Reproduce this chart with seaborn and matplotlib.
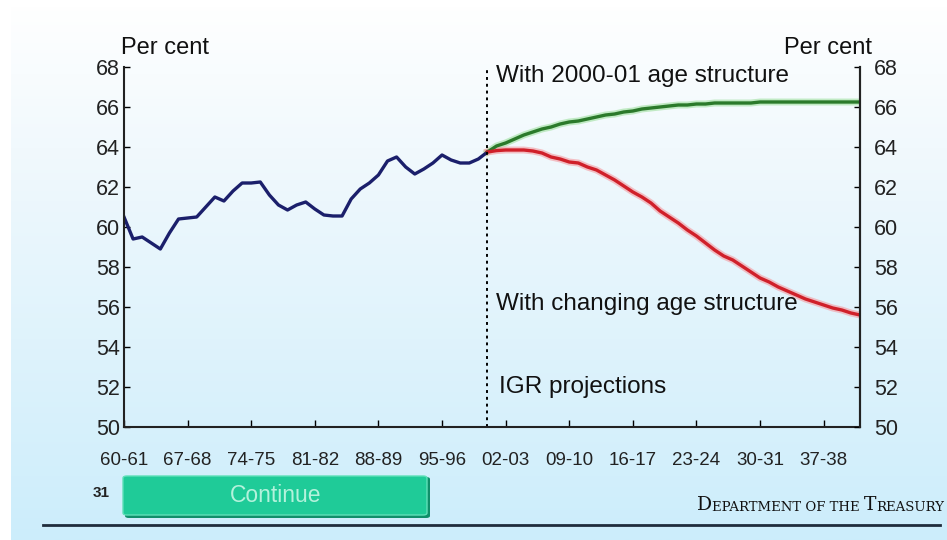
import numpy as np
import pandas as pd
import matplotlib
matplotlib.use("Agg")
import matplotlib.pyplot as plt
import matplotlib.text as mtext
import seaborn as sns
from matplotlib.patches import FancyBboxPatch

# ---------------- data ----------------
hist_values = [60.5, 59.4, 59.5, 59.2, 58.9, 59.7, 60.4, 60.45, 60.5, 61.0,
               61.5, 61.3, 61.8, 62.2, 62.2, 62.25, 61.6, 61.1, 60.85, 61.1,
               61.25, 60.9, 60.6, 60.55, 60.55, 61.4, 61.9, 62.2, 62.6, 63.3,
               63.5, 63.0, 62.65, 62.9, 63.2, 63.6, 63.35, 63.2, 63.2, 63.4,
               63.75]
const_age_values = [63.75, 64.05, 64.2, 64.4, 64.6, 64.75, 64.9, 65.0, 65.15, 65.25,
                    65.3, 65.4, 65.5, 65.6, 65.65, 65.75, 65.8, 65.9, 65.95, 66.0,
                    66.05, 66.1, 66.1, 66.15, 66.15, 66.2, 66.2, 66.2, 66.2, 66.2,
                    66.25, 66.25, 66.25, 66.25, 66.25, 66.25, 66.25, 66.25, 66.25, 66.25,
                    66.25, 66.25]
changing_age_values = [63.75, 63.82, 63.85, 63.85, 63.85, 63.8, 63.7, 63.5, 63.4, 63.25,
                       63.2, 63.0, 62.85, 62.6, 62.35, 62.05, 61.75, 61.5, 61.2, 60.8,
                       60.5, 60.2, 59.85, 59.55, 59.2, 58.85, 58.55, 58.35, 58.05, 57.75,
                       57.45, 57.25, 57.0, 56.8, 56.6, 56.4, 56.25, 56.1, 55.95, 55.85,
                       55.7, 55.6]
x_tick_labels = ["60-61", "67-68", "74-75", "81-82", "88-89", "95-96",
                 "02-03", "09-10", "16-17", "23-24", "30-31", "37-38"]
y_ticks = [50, 52, 54, 56, 58, 60, 62, 64, 66, 68]
split_index = 40

hist_idx = list(range(len(hist_values)))
proj_idx = list(range(split_index, split_index + len(const_age_values)))
df = pd.concat([
    pd.DataFrame({"idx": hist_idx, "value": hist_values, "series": "Historical"}),
    pd.DataFrame({"idx": proj_idx, "value": const_age_values, "series": "With 2000-01 age structure"}),
    pd.DataFrame({"idx": proj_idx, "value": changing_age_values, "series": "With changing age structure"}),
])

# ---------------- figure ----------------
W, H = 947, 540
fig = plt.figure(figsize=(W / 100, H / 100), dpi=100)
plt.rcParams['font.family'] = ['Liberation Sans', 'DejaVu Sans']

# background gradient
bg = fig.add_axes([0, 0, 1, 1], zorder=-10)
t = np.linspace(0, 1, H)[:, None]
top = np.array([1.0, 1.0, 1.0])
mid = np.array([0.93, 0.97, 0.99])
bot = np.array([0.80, 0.93, 0.985])
col = np.where(t < 0.35, top + (mid - top) * (t / 0.35),
               mid + (bot - mid) * ((t - 0.35) / 0.65))
img = np.repeat(col[:, None, :], W, axis=1).reshape(H, W, 3)
img[:, :11, :] = 1.0
img[:8, :, :] = 1.0
bg.imshow(img, aspect='auto', extent=[0, 1, 0, 1], origin='upper')
bg.set_axis_off()

ax = fig.add_axes([124 / W, 1 - 427 / H, (860 - 124) / W, (427 - 67) / H])
ax.patch.set_alpha(0)

palette = {"Historical": "#1b1f6b",
           "With 2000-01 age structure": "#2b7a2b",
           "With changing age structure": "#d0202a"}
glow = df[df.series != "Historical"]
sns.lineplot(data=glow, x="idx", y="value", hue="series",
             palette={"With 2000-01 age structure": "#9fe09f",
                      "With changing age structure": "#f59aa0"},
             linewidth=5, ax=ax, legend=False, estimator=None, alpha=0.6)
sns.lineplot(data=df, x="idx", y="value", hue="series", palette=palette,
             linewidth=2.4, ax=ax, legend=False, estimator=None)

ax.axvline(split_index, color="black", linestyle=(0, (1.5, 2)), linewidth=1.4)

n_total = split_index + len(const_age_values) - 1
ax.set_xlim(0, n_total)
ax.set_ylim(50, 68)
ax.set_xlabel("")
ax.set_ylabel("")

tick_pos = list(range(0, 7 * len(x_tick_labels), 7))
ax.set_xticks(tick_pos)
ax.set_xticklabels(x_tick_labels, fontsize=13.5, color="#222222")
ax.set_yticks(y_ticks)
ax.set_yticklabels([str(v) for v in y_ticks], fontsize=15.5, color="#222222")
ax.tick_params(axis="x", direction="in", length=5, width=1, pad=18)
ax.tick_params(axis="y", direction="in", length=4, width=1, pad=3)

for s in ["left", "bottom", "right"]:
    ax.spines[s].set_color("#222222")
    ax.spines[s].set_linewidth(1.5)
ax.spines["top"].set_visible(False)

ax2 = ax.twinx()
ax2.set_ylim(50, 68)
ax2.set_yticks(y_ticks)
ax2.set_yticklabels([str(v) for v in y_ticks], fontsize=15.5, color="#222222")
ax2.tick_params(axis="y", direction="in", length=4, width=1, pad=10)
for s in ["left", "bottom", "top"]:
    ax2.spines[s].set_visible(False)
ax2.spines["right"].set_color("#222222")
ax2.spines["right"].set_linewidth(1.5)

# labels
fig.text(121 / W, 1 - 48 / H, "Per cent", fontsize=17, ha="left", va="center", color="#111111")
fig.text(872 / W, 1 - 48 / H, "Per cent", fontsize=17, ha="right", va="center", color="#111111")
fig.text(496 / W, 1 - 76 / H, "With 2000-01 age structure", fontsize=17.5, ha="left", va="center", color="#111111")
fig.text(496 / W, 1 - 304 / H, "With changing age structure", fontsize=17.5, ha="left", va="center", color="#111111")
fig.text(499 / W, 1 - 387 / H, "IGR projections", fontsize=17.5, ha="left", va="center", color="#111111")

# footer: page number, button, rule, department
fig.text(93 / W, 1 - 493 / H, "31", fontsize=11, fontweight="bold", ha="left", va="center", color="#222222")
shadow = FancyBboxPatch((125 / W, 1 - 518 / H), (430 - 125) / W, (518 - 477) / H,
                        boxstyle="round,pad=0,rounding_size=0.004", transform=fig.transFigure,
                        facecolor="#0f8f6a", edgecolor="none", zorder=1)
btn = FancyBboxPatch((123 / W, 1 - 515 / H), (427 - 123) / W, (515 - 476) / H,
                     boxstyle="round,pad=0,rounding_size=0.004", transform=fig.transFigure,
                     facecolor="#1fcb98", edgecolor="#5fe0b8", linewidth=1, zorder=2)
fig.patches.extend([shadow, btn])
fig.text(276 / W, 1 - 496 / H, "Continue", fontsize=16.5, ha="center", va="center", color="#b4f2dc", zorder=3)
fig.add_artist(plt.Line2D([43 / W, 940 / W], [1 - 525 / H, 1 - 525 / H],
                          transform=fig.transFigure, color="#1f2c3c", linewidth=2))

# small-caps "Department of the Treasury"
parts = [("D", 13.5), ("EPARTMENT OF THE ", 9.5), ("T", 13.5), ("REASURY", 9.5)]
prev = fig.text(697 / W, 1 - 510 / H, parts[0][0], fontsize=parts[0][1], family="DejaVu Serif",
                ha="left", va="baseline", color="#111111")
for txt, fs in parts[1:]:
    prev = fig.add_artist(mtext.Annotation(
        txt, xy=(1, 0), xycoords=prev, xytext=(0, 0), textcoords="offset points",
        fontsize=fs, family="DejaVu Serif", color="#111111", ha="left", va="bottom"))

fig.savefig("out.png", dpi=100)
